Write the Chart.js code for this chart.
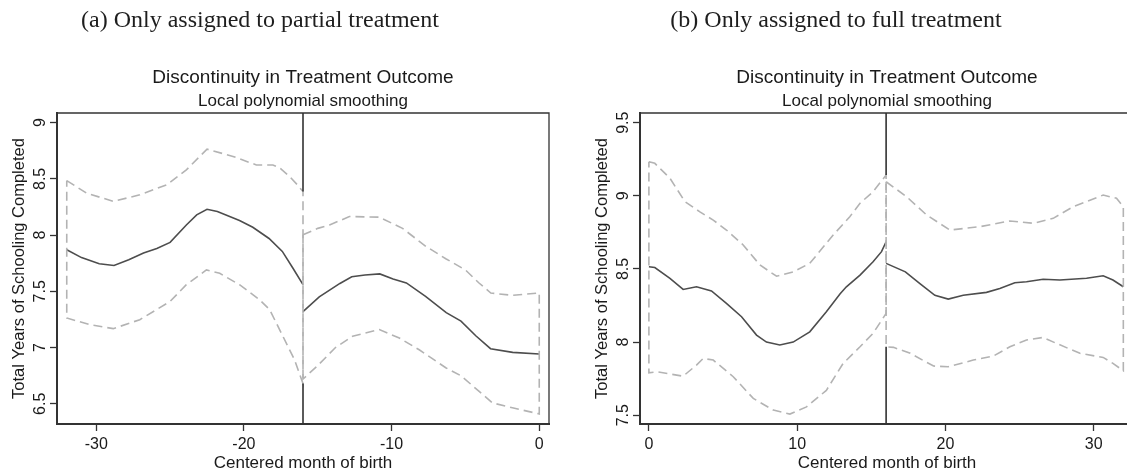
<!DOCTYPE html>
<html>
<head>
<meta charset="utf-8">
<script src="https://cdn.jsdelivr.net/npm/chart.js@4.4.1/dist/chart.umd.min.js"></script>
<style>
  html, body { margin: 0; padding: 0; background: #fff; overflow: hidden; }
  body { position: relative; width: 1127px; height: 476px; }
  .panel { position: absolute; top: 0; }
  .caption {
    position: absolute; top: 7px;
    font: 24px "Liberation Serif", "Times New Roman", serif;
    line-height: 24px; color: #1e1e1e; white-space: nowrap;
    transform: translateX(-50%);
  }
</style>
</head>
<body>
<canvas id="partialChart" class="panel" width="560" height="476" style="left:0"></canvas>
<canvas id="fullChart" class="panel" width="562" height="476" style="left:583px"></canvas>
<div class="caption" style="left:260px">(a) Only assigned to partial treatment</div>
<div class="caption" style="left:836px">(b) Only assigned to full treatment</div>
<script>
// (a) only assigned to partial treatment: [month, years]
const partialCutoff = -16;
const partialXTicks = [-30, -20, -10, 0];
const partialYTicks = [6.5, 7, 7.5, 8, 8.5, 9];
const partialFitLeft = [[-32, 7.87], [-31, 7.80], [-29.8, 7.745], [-28.8, 7.73], [-27.8, 7.78], [-26.8, 7.84],
  [-25.9, 7.88], [-25, 7.935], [-23.9, 8.09], [-23.2, 8.18], [-22.5, 8.23], [-21.8, 8.21], [-20.3, 8.13],
  [-19.4, 8.07], [-18.3, 7.97], [-17.4, 7.855], [-16.7, 7.71], [-16, 7.56]];
const partialFitRight = [[-16, 7.32], [-14.9, 7.45], [-14.2, 7.51], [-13.5, 7.57], [-12.7, 7.63], [-11.8, 7.645],
  [-10.8, 7.655], [-9.9, 7.61], [-9, 7.575], [-7.7, 7.455], [-6.3, 7.31], [-5.3, 7.235], [-4.3, 7.105],
  [-3.3, 6.99], [-1.8, 6.957], [0, 6.943]];
const partialUpperLeft = [[-32, 8.485], [-30.65, 8.373], [-28.85, 8.30], [-27.05, 8.358], [-25.24, 8.447],
  [-23.9, 8.58], [-22.5, 8.764], [-20.74, 8.70], [-19.16, 8.624], [-18.04, 8.624], [-17.6, 8.60],
  [-16.9, 8.52], [-16.4, 8.45], [-16, 8.387]];
const partialLowerLeft = [[-32, 7.263], [-30.43, 7.203], [-28.85, 7.168], [-27.05, 7.248], [-25, 7.41],
  [-23.9, 7.559], [-22.54, 7.69], [-21.64, 7.66], [-20.3, 7.559], [-18.94, 7.425], [-18.26, 7.337],
  [-17.36, 7.10], [-16.57, 6.89], [-16, 6.68]];
const partialUpperRight = [[-16, 8.003], [-15, 8.06], [-14.2, 8.09], [-12.86, 8.165], [-10.83, 8.16],
  [-9.26, 8.06], [-7.68, 7.90], [-6.33, 7.79], [-5, 7.69], [-4.08, 7.574], [-3.28, 7.485], [-1.82, 7.464],
  [0, 7.485]];
const partialLowerRight = [[-16, 6.72], [-15, 6.84], [-13.8, 7.0], [-12.64, 7.10], [-10.83, 7.16],
  [-9.48, 7.085], [-8.13, 6.98], [-6.33, 6.82], [-5.31, 6.75], [-4.07, 6.61], [-3.17, 6.508],
  [-1.82, 6.464], [0, 6.41]];

// (b) only assigned to full treatment
const fullCutoff = 16;
const fullXTicks = [0, 10, 20, 30];
const fullYTicks = [7.5, 8, 8.5, 9, 9.5];
const fullFitLeft = [[0, 8.515], [0.4, 8.51], [1.42, 8.436], [2.31, 8.36], [3.21, 8.378], [4.22, 8.35],
  [5.23, 8.265], [6.25, 8.173], [7.26, 8.048], [7.93, 8.0], [8.83, 7.98], [9.73, 8.0], [10.85, 8.07],
  [11.97, 8.207], [12.9, 8.33], [13.32, 8.378], [14.24, 8.458], [15.12, 8.549], [15.69, 8.618], [16, 8.686]];
const fullFitRight = [[16, 8.538], [17.3, 8.48], [18.28, 8.40], [19.29, 8.32], [20.19, 8.294], [21.2, 8.32],
  [22.77, 8.34], [23.67, 8.367], [24.68, 8.406], [25.47, 8.412], [26.59, 8.429], [27.72, 8.424],
  [29.52, 8.436], [30.64, 8.453], [31.3, 8.424], [32, 8.378]];
const fullUpperLeft = [[0, 9.233], [0.4, 9.222], [1.42, 9.12], [2.43, 8.96], [3.44, 8.89], [4.34, 8.834],
  [5.23, 8.766], [6.36, 8.664], [7.49, 8.527], [8.61, 8.45], [9.73, 8.48], [10.85, 8.538], [12.43, 8.732],
  [13.55, 8.857], [14.24, 8.949], [15.12, 9.028], [16, 9.142]];
const fullLowerLeft = [[0, 7.79], [0.52, 7.797], [2.31, 7.767], [3.21, 7.843], [3.66, 7.888], [4.34, 7.877],
  [5.69, 7.763], [7.04, 7.615], [8.39, 7.535], [9.51, 7.508], [10.63, 7.557], [11.97, 7.67], [13.1, 7.854],
  [14.24, 7.968], [15.12, 8.06], [16, 8.196]];
const fullUpperRight = [[16, 9.096], [17.38, 8.994], [18.73, 8.869], [20.3, 8.766], [22.32, 8.789],
  [24.35, 8.828], [25.92, 8.812], [27.27, 8.846], [28.61, 8.925], [30.64, 9.005], [31.54, 8.983], [32, 8.925]];
const fullLowerRight = [[16, 7.968], [16.5, 7.964], [17.63, 7.923], [19.2, 7.836], [20.19, 7.831],
  [21.88, 7.877], [23.22, 7.904], [24.35, 7.968], [25.47, 8.014], [26.59, 8.032], [27.49, 7.991],
  [29.07, 7.923], [30.64, 7.895], [31.3, 7.854], [32, 7.804]];

const sans = '"Liberation Sans", Arial, Helvetica, sans-serif';
const axisInk = '#333';
const textInk = '#1a1a1a';
const fitColor = '#4d4d4d';
const bandColor = '#b3b3b3';

const toPoints = pairs => pairs.map(([x, y]) => ({x: x, y: y}));

// band outline: upper edge left to right, lower edge back, then close
function bandOutline(upper, lower) {
  const pts = upper.concat(lower.slice().reverse());
  pts.push(upper[0]);
  return toPoints(pts);
}

// the cutoff line is covered by the bands, so it only shows above and below them
function cutoffLine(cutoff, yMin, yMax, upperL, lowerL, upperR, lowerR) {
  const top = Math.max(upperL[upperL.length - 1][1], upperR[0][1]);
  const bottom = Math.min(lowerL[lowerL.length - 1][1], lowerR[0][1]);
  return [
    {x: cutoff, y: yMax}, {x: cutoff, y: top}, {x: cutoff, y: null},
    {x: cutoff, y: bottom}, {x: cutoff, y: yMin}
  ];
}

// top and right edges of the plot box
const framePlugin = {
  id: 'frame',
  beforeDatasetsDraw(chart) {
    const {ctx, chartArea: a} = chart;
    ctx.save();
    ctx.strokeStyle = axisInk;
    ctx.lineWidth = 1.3;
    ctx.beginPath();
    ctx.moveTo(a.left, a.top);
    ctx.lineTo(a.right, a.top);
    ctx.lineTo(a.right, a.bottom);
    ctx.stroke();
    ctx.restore();
  }
};

function renderPanel(canvasId, p) {
  const ctx = document.getElementById(canvasId).getContext('2d');

  const bandStyle = {
    borderColor: bandColor, borderWidth: 1.6, borderDash: [9, 5],
    pointRadius: 0, fill: false, tension: 0
  };
  const fitStyle = {borderColor: fitColor, borderWidth: 1.6, pointRadius: 0, fill: false, tension: 0};

  return new Chart(ctx, {
    type: 'line',
    data: {
      datasets: [
        {
          data: cutoffLine(p.cutoff, p.yMin, p.yMax, p.upperL, p.lowerL, p.upperR, p.lowerR),
          borderColor: axisInk, borderWidth: 1.6, pointRadius: 0, spanGaps: false
        },
        Object.assign({data: bandOutline(p.upperL, p.lowerL)}, bandStyle),
        Object.assign({data: bandOutline(p.upperR, p.lowerR)}, bandStyle),
        Object.assign({data: toPoints(p.fitL)}, fitStyle),
        Object.assign({data: toPoints(p.fitR)}, fitStyle)
      ]
    },
    options: {
      responsive: false,
      animation: false,
      layout: {padding: {top: 60, right: 11, bottom: 0, left: 0}},
      plugins: {
        legend: {display: false},
        tooltip: {enabled: false},
        title: {
          display: true, fullSize: false,
          text: 'Discontinuity in Treatment Outcome',
          color: textInk,
          font: {family: sans, size: 19, weight: 'normal'},
          padding: {top: 6.6, bottom: 0}
        },
        subtitle: {
          display: true, fullSize: false,
          text: 'Local polynomial smoothing',
          color: textInk,
          font: {family: sans, size: 17, weight: 'normal'},
          padding: {top: 2.1, bottom: 1.1}
        }
      },
      scales: {
        x: {
          type: 'linear', position: 'bottom',
          min: p.xMin, max: p.xMax,
          afterBuildTicks: s => { s.ticks = p.xTicks.map(v => ({value: v})); },
          afterFit: s => { s.height = 52; },
          grid: {drawOnChartArea: false, drawTicks: true, tickLength: 7, tickColor: axisInk, tickWidth: 1.3},
          border: {display: true, color: axisInk, width: 2},
          ticks: {color: textInk, font: {family: sans, size: 16}, padding: 3.5, maxRotation: 0, autoSkip: false},
          title: {
            display: true, text: 'Centered month of birth', color: textInk,
            font: {family: sans, size: 17}, padding: {top: 0, bottom: 2.5}
          }
        },
        y: {
          type: 'linear', position: 'left',
          min: p.yMin, max: p.yMax,
          afterBuildTicks: s => { s.ticks = p.yTicks.map(v => ({value: v})); },
          afterFit: s => { s.width = 57; },
          grid: {drawOnChartArea: false, drawTicks: true, tickLength: 7, tickColor: axisInk, tickWidth: 1.3},
          border: {display: true, color: axisInk, width: 2},
          ticks: {
            color: textInk, font: {family: sans, size: 16}, padding: -2.2,
            minRotation: 90, maxRotation: 90, crossAlign: 'center', autoSkip: false,
            callback: v => String(v)
          },
          title: {
            display: true, text: 'Total Years of Schooling Completed', color: textInk,
            font: {family: sans, size: 16.5}, padding: {top: 9.6, bottom: 0}
          }
        }
      }
    },
    plugins: [framePlugin]
  });
}

renderPanel('partialChart', {
  cutoff: partialCutoff, xMin: -32.66, xMax: 0.66, yMin: 6.32, yMax: 9.086,
  xTicks: partialXTicks, yTicks: partialYTicks,
  fitL: partialFitLeft, fitR: partialFitRight,
  upperL: partialUpperLeft, lowerL: partialLowerLeft,
  upperR: partialUpperRight, lowerR: partialLowerRight
});

renderPanel('fullChart', {
  cutoff: fullCutoff, xMin: -0.6, xMax: 32.72, yMin: 7.44, yMax: 9.566,
  xTicks: fullXTicks, yTicks: fullYTicks,
  fitL: fullFitLeft, fitR: fullFitRight,
  upperL: fullUpperLeft, lowerL: fullLowerLeft,
  upperR: fullUpperRight, lowerR: fullLowerRight
});
</script>
</body>
</html>
